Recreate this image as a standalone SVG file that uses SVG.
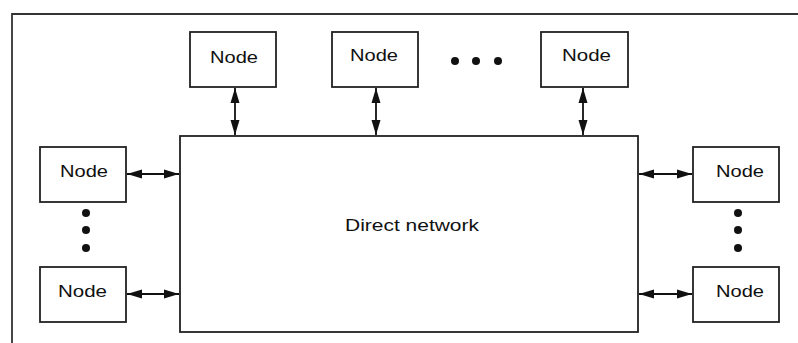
<svg xmlns="http://www.w3.org/2000/svg" width="798" height="343" viewBox="0 0 798 343">
<style>
.box{fill:#fff;stroke:#222;stroke-width:1.8}
.lbl{font-family:"Liberation Sans",Arial,sans-serif;font-size:17px;fill:#111}
.con{stroke:#111;stroke-width:1.8;fill:none;marker-start:url(#ah);marker-end:url(#ah)}
.dot{fill:#111}
</style>
<defs>
<marker id="ah" viewBox="0 0 15 10" refX="15" refY="5" markerWidth="15" markerHeight="10" markerUnits="userSpaceOnUse" orient="auto-start-reverse">
<path d="M0,0.5 L15,5 L0,9.5 Z" fill="#111"/>
</marker>
</defs>
<rect width="798" height="343" fill="#fff"/>
<path d="M12,343 V14 H798" fill="none" stroke="#333" stroke-width="1.8"/>
<g id="network"><rect class="box" x="180" y="136" width="458" height="196"/><text class="lbl" x="345" y="231" textLength="134" lengthAdjust="spacingAndGlyphs">Direct network</text></g>
<g id="node-top-1"><rect class="box" x="190" y="32" width="86" height="55"/><text class="lbl" x="210" y="63" textLength="48" lengthAdjust="spacingAndGlyphs">Node</text></g>
<g id="node-top-2"><rect class="box" x="332" y="32" width="86" height="55"/><text class="lbl" x="350" y="61" textLength="48" lengthAdjust="spacingAndGlyphs">Node</text></g>
<g id="node-top-3"><rect class="box" x="541" y="32" width="87" height="55"/><text class="lbl" x="562" y="61" textLength="49" lengthAdjust="spacingAndGlyphs">Node</text></g>
<g id="node-left-1"><rect class="box" x="40" y="147" width="86" height="55"/><text class="lbl" x="60" y="177" textLength="48" lengthAdjust="spacingAndGlyphs">Node</text></g>
<g id="node-left-2"><rect class="box" x="40" y="267" width="86" height="55"/><text class="lbl" x="58" y="297" textLength="49" lengthAdjust="spacingAndGlyphs">Node</text></g>
<g id="node-right-1"><rect class="box" x="693" y="147" width="86" height="55"/><text class="lbl" x="716" y="177" textLength="48" lengthAdjust="spacingAndGlyphs">Node</text></g>
<g id="node-right-2"><rect class="box" x="693" y="267" width="86" height="55"/><text class="lbl" x="716" y="297" textLength="48" lengthAdjust="spacingAndGlyphs">Node</text></g>
<g id="ellipses">
<circle class="dot" cx="455" cy="61" r="4"/><circle class="dot" cx="476" cy="61" r="4"/><circle class="dot" cx="498" cy="61" r="4"/>
<circle class="dot" cx="86" cy="213" r="4"/><circle class="dot" cx="86" cy="230" r="4"/><circle class="dot" cx="86" cy="248" r="4"/>
<circle class="dot" cx="738" cy="213" r="4"/><circle class="dot" cx="738" cy="230" r="4"/><circle class="dot" cx="738" cy="248" r="4"/>
</g>
<g id="connectors">
<line class="con" x1="235" y1="88" x2="235" y2="135"/>
<line class="con" x1="376" y1="88" x2="376" y2="135"/>
<line class="con" x1="583" y1="88" x2="583" y2="135"/>
<line class="con" x1="127" y1="174" x2="179" y2="174"/>
<line class="con" x1="127" y1="294" x2="179" y2="294"/>
<line class="con" x1="639" y1="174" x2="692" y2="174"/>
<line class="con" x1="639" y1="294" x2="692" y2="294"/>
</g>
</svg>
